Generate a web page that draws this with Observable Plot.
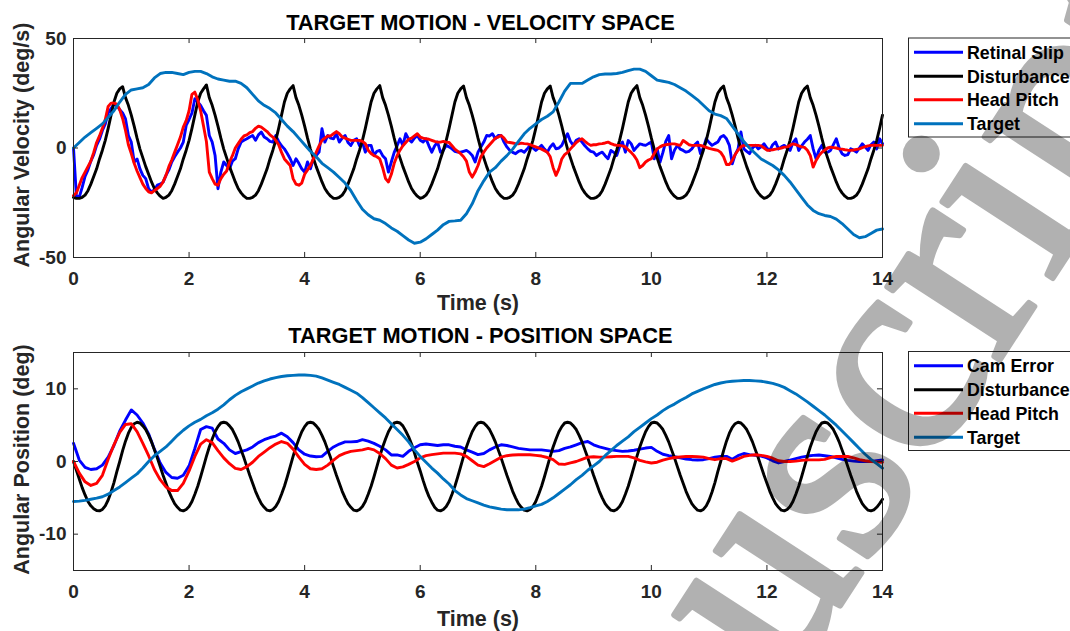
<!DOCTYPE html>
<html><head><meta charset="utf-8">
<script src="https://cdn.jsdelivr.net/npm/d3@7"></script>
<script src="https://cdn.jsdelivr.net/npm/@observablehq/plot@0.6"></script>
<style>
body{margin:0;background:#fff;}
#wrap{position:relative;width:1070px;height:631px;overflow:hidden;background:#fff;}
</style></head><body><div id="wrap"></div>
<script>
// ---------- DATA ----------
const xTicks = [0, 2, 4, 6, 8, 10, 12, 14];
const velTicks = [-50, 0, 50];
const posTicks = [-10, 0, 10];
const velLegend = ["Retinal Slip", "Disturbance", "Head Pitch", "Target"];
const posLegend = ["Cam Error", "Disturbance", "Head Pitch", "Target"];
const titles = ["TARGET MOTION - VELOCITY SPACE", "TARGET MOTION - POSITION SPACE"];
const yLabels = ["Angular Velocity (deg/s)", "Angular Position (deg)"];
const xLabel = "Time (s)";
const watermarkText = "Manuscript";
const fineStep = 0.05;   // s between samples
const coarseStep = 0.1;  // s between samples

const velRetinalSlip = [
0,-22,-22.4,-18,-13,-10,-6,-3,1.2,4,8,11,16,18,20,19.4,17.5,16,13.3,5.7,
2.7,-6.4,-5,-9.5,-12.5,-14,-18.6,-20.1,-19,-17,-16.5,-15.6,-12.5,-10,-6.4,-4,-1.9,0,2.7,10.3,
13,16,22.5,21,19.4,17,14.9,5.7,2.7,-3.4,-18.6,-11,-6.4,-8,-9.5,-6,-4.9,-0.4,2.7,3.5,
4.2,5,5.7,3.5,6,7.3,5,4.2,3,2.7,5.7,3,1,-0.4,-2.5,-4.9,-8,-4.9,-7,-9.5,
-11,-6.4,-9.5,-5,-3.4,-1.9,8.8,2.7,5.7,4.5,4.2,6.5,2.7,4.5,5.7,2.5,1.2,3.5,4.2,1,
2.7,-1.9,1.2,1.2,-3.4,-1.5,-1.1,-3.5,-4.9,-11,-6.4,-2,1,4.2,1.2,6.5,4,2.7,4.5,5.7,
3.5,2.7,4.2,1,-1.9,1,2.7,-1.9,-1,1.2,0.5,-0.4,-1.5,-1.9,-1.9,-1.5,-1.1,-2,-3.4,-6.4,
-1.9,0.5,2.7,5.7,5.5,6.5,4.2,5.7,5.7,2.7,0.5,-1.1,-2,-2.6,-1.5,-1.1,-1.9,-0.5,1.2,0,
-1.1,0,1.2,-0.5,-1.9,0.5,1.9,-0.4,0,1.2,4,6.5,3,1.2,3.5,4.2,2.7,1,-0.4,-1.5,
-1.9,-3.4,-2.5,-1.9,-3.5,-4.9,-1.1,-2,-3.4,0.5,2.7,-1.9,3.4,2,-1.1,0.5,1.9,1.5,1.2,2,
2.7,-4.9,-0.4,-6.4,-2,3,5.7,-4.9,-1,1.2,-0.5,-1.1,-1.9,-1.5,-0.4,1.5,2.7,-2.6,0,4.2,
2.5,1.2,2,2.7,5,5.7,4.2,1.2,-7.2,-3,-0.4,7.3,-0.4,-1.5,-2.6,0,1.2,-0.4,0.5,1.9,
0,-1.1,1.5,2.7,-0.4,0.5,1.2,0,-1.1,2.5,4.2,-1.1,1,2.7,4,5.7,-0.4,-4.9,-1,1.2,
-1.9,-1.9,-1.1,1.5,4.2,0,-2.6,-3.4,-3,-0.4,-1,-1.9,0,1.9,0.5,-1.1,1.5,2.7,-0.4,4.2,
1.9];

const velDisturbance = [
-22.5,-23,
-23,-22.5,-21.5,-19.5,-16.5,-13,-9.5,-5,-1,3.5,9,15,21,25,27,
28,
23,19.5,15,10,4.5,-0.5,-4.5,-8.5,-12,-15.5,-18.5,-20.5,-22,-23,
-22.5,-21.5,-19.5,-16.5,-13,-9.5,-5,-1,3.5,9,15,21,25,27,
28.8,
23,19.5,15,10,4.5,-0.5,-4.5,-8.5,-12,-15.5,-18.5,-20.5,-22,-23,
-23,-22.5,-21.5,-19.5,-16.5,-13,-9.5,-5,-1,3.5,9,15,21,25,27,
28.5,
23,19.5,15,10,4.5,-0.5,-4.5,-8.5,-12,-15.5,-18.5,-20.5,-22,-23,
-23,-22.5,-21.5,-19.5,-16.5,-13,-9.5,-5,-1,3.5,9,15,21,25,27,
28.5,
23,19.5,15,10,4.5,-0.5,-4.5,-8.5,-12,-15.5,-18.5,-20.5,-22,-23,
-22.5,-21.5,-19.5,-16.5,-13,-9.5,-5,-1,3.5,9,15,21,25,27,
28.3,
23,19.5,15,10,4.5,-0.5,-4.5,-8.5,-12,-15.5,-18.5,-20.5,-22,-23,
-23,-22.5,-21.5,-19.5,-16.5,-13,-9.5,-5,-1,3.5,9,15,21,25,27,
28.3,
23,19.5,15,10,4.5,-0.5,-4.5,-8.5,-12,-15.5,-18.5,-20.5,-22,-23,
-23,-22.5,-21.5,-19.5,-16.5,-13,-9.5,-5,-1,3.5,9,15,21,25,27,
28.5,
23,19.5,15,10,4.5,-0.5,-4.5,-8.5,-12,-15.5,-18.5,-20.5,-22,-23,
-23,-22.5,-21.5,-19.5,-16.5,-13,-9.5,-5,-1,3.5,9,15,21,25,27,
28.3,
23,19.5,15,10,4.5,-0.5,-4.5,-8.5,-12,-15.5,-18.5,-20.5,-22,-23,
-22.5,-21.5,-19.5,-16.5,-13,-9.5,-5,-1,3.5,9,15,21,25,27,
28.3,
23,19.5,15,10,4.5,-0.5,-4.5,-8.5,-12,-15.5,-18.5,-20.5,-22,-23,
-23,-22.5,-21.5,-19.5,-16.5,-13,-9.5,-5,-1,3.5,9,15];

const velHeadPitch = [
-21.7,-20.5,-17,-13.5,-11,-8.5,-6,-2,2.5,5.5,9,13,19,20.5,20.5,20,17.5,13.5,8,1.5,
-2.5,-7,-10.5,-13.5,-16.5,-18.5,-20,-20.5,-19.5,-18.5,-17.5,-15.5,-12.5,-8.5,-5.5,-2,1.5,5,9.5,12.5,
17,24.5,25.5,22,17,10,3,-11,-14,-16.5,-17,-14,-12,-10.5,-6.5,-3.5,0,2,4,5.5,
6,7,7.5,9,10,9.5,8.5,7.5,6,5,3.5,1.5,-2,-5,-6.5,-8,-14,-16.5,-17,-16,
-12,-10,-8,-5,-2,1,3.5,4.5,5.5,5.5,6.5,7.5,6.5,5,4.5,4,3.5,3.5,3.5,3.5,
3,2,-1,-2.5,-3.5,-4,-5,-9,-14,-15.5,-12,-7,-3.5,-1,1,2.5,4,4.5,5.5,6.5,
5,4.5,4.2,4,3.5,3,2.7,2.7,3,2.7,2.5,1,-0.5,-1.5,-2.6,-4,-6,-11,-13.3,-11,
-8,-4,-1.9,0,1.5,3,4.5,5,5.7,4.5,2.7,2.5,2.3,2,1.9,2.2,2,1.9,1.5,1,
0.5,0,-0.5,-1.2,-1.9,-4,-9,-12.5,-9.5,-5,-3,-2,-0.4,1,2.5,3.5,4.2,3,2,1.2,
1.5,1.5,1.9,2,2.3,2.7,2,1.5,1.2,1.2,1,0.5,-0.8,-2,-3.5,-5.5,-9,-8,-6.4,-5.5,
-4.9,-2.5,-0.4,0.5,1.2,1.5,1.7,1.9,1.9,1.5,1.2,3.4,2.5,1.5,1.2,1.2,1.2,1.2,0.8,0.3,
-0.2,-0.5,-0.8,-1.1,-2,-4,-7.5,-7.5,-5.7,-3,-1,0.5,1.2,1.2,1.2,1.2,1.2,1.2,1,0,
-1,-1,-0.8,-0.5,-0.3,0,0.4,0.5,1.2,1.9,1.5,1,0.5,0.3,-1,-3.4,-8.7,-5.7,-3.5,-2,
-1,0,0.4,0.2,0,-0.4,-0.5,-0.8,-1,-1.1,-0.9,-0.6,-0.4,0.2,0.6,1,1.2,1.3,1.2,1.2,
1.2];

const velTarget = [
0,2.5,5,7,9,11,14,17,21,24.5,
26.5,27,27.5,29,32,34,34.5,34.5,34,33.5,
34.5,35,35,34,32.5,31.5,31,30.5,30.5,29.5,
27.5,24.5,21.5,19.5,18,16,13,10,7.5,4.5,
1.5,-1.5,-4,-7,-9,-11,-13.5,-16,-19.5,-24,
-28,-30.5,-32.3,-33,-34.5,-36.5,-38,-40,-42,-43.5,
-43,-41.5,-39.5,-37.5,-35,-33.5,-33.3,-33,-30,-25.5,
-19.5,-15,-11,-9,-6,-3.5,-0.5,3,6.5,9,
11,13,14.5,16.5,21,26,29.5,29.5,29.5,31,
32.5,33.5,33.8,33.8,34,34.5,35.3,36,36,35,
33,31,30.5,30,29,27.5,26,24,22,19.5,
17,15.5,14.8,13.5,10,6.5,3,0,-2.5,-5,
-6.5,-8,-10,-12.5,-15.5,-19,-22.5,-26,-28.5,-30,
-30.8,-31.3,-32.5,-34.5,-37,-39.5,-41,-40.5,-39,-37.5,
-37];

const posCamError = [
2.5,0.2,-0.8,-1.1,-1.0,-0.5,0.6,2.2,4.2,5.7,
7.1,6.4,5.3,3.8,1.7,-0.2,-1.5,-2.2,-2.3,-1.9,
-0.6,1.8,4.4,4.8,4.6,3.1,2.5,1.6,1.1,1.35,
1.6,2.0,2.6,3.0,3.3,3.5,3.9,3.4,2.6,1.6,
1.0,0.75,0.65,0.7,1.4,2.0,2.4,2.7,2.7,2.75,
3.0,2.8,2.5,2.1,1.6,0.9,0.9,0.7,1.4,1.9,
2.3,2.4,2.3,2.2,2.3,2.3,2.1,2.0,1.6,1.3,
0.95,1.1,1.6,2.0,2.3,2.2,2.0,1.8,1.7,1.6,
1.6,1.6,1.5,1.4,1.5,1.8,2.0,2.3,2.6,2.75,
2.3,2.0,1.8,1.6,1.5,1.4,1.45,1.55,1.7,1.85,
1.95,1.4,1.0,0.8,0.65,0.5,0.35,0.25,0.2,0.25,
0.4,0.6,0.7,0.7,0.3,0.8,1.1,0.95,0.85,0.75,
0.5,0.1,-0.2,0.0,0.2,0.4,0.6,0.75,0.85,0.9,
0.8,0.7,0.5,0.3,0.15,0.05,0.0,0.0,0.0,0.1,
0.2];

const posDisturbance = [
0,-1.2,-2.4,-3.6,-4.6,-5.5,-6.1,-6.5,-6.75,-6.8,
-6.6,-6.1,-5.3,-4.2,-2.9,-1.4,0,1.5,2.8,3.9,4.7,5.2,5.4,
5.3,4.9,4.4,3.6,2.7,1.6,0.5,-0.7,-1.9,-3,-4.1,-5,-5.8,-6.3,-6.7,-6.8,
-6.6,-6.2,-5.5,-4.5,-3.4,-2.1,-0.7,0.7,2,3.1,4.1,4.8,5.3,5.4,
5.3,4.9,4.4,3.6,2.7,1.6,0.5,-0.7,-1.9,-3,-4.1,-5,-5.8,-6.3,-6.7,-6.8,
-6.6,-6.2,-5.5,-4.5,-3.4,-2.1,-0.7,0.7,2,3.1,4.1,4.8,5.3,5.4,
5.3,4.9,4.4,3.6,2.7,1.6,0.5,-0.7,-1.9,-3,-4.1,-5,-5.8,-6.3,-6.7,-6.8,
-6.6,-6.2,-5.5,-4.5,-3.4,-2.1,-0.7,0.7,2,3.1,4.1,4.8,5.3,5.4,
5.3,4.9,4.2,3.4,2.4,1.2,-0.1,-1.3,-2.6,-3.8,-4.8,-5.6,-6.3,-6.7,-6.8,
-6.6,-6.2,-5.5,-4.5,-3.4,-2.1,-0.7,0.7,2,3.1,4.1,4.8,5.3,5.4,
5.3,4.9,4.4,3.6,2.7,1.6,0.5,-0.7,-1.9,-3,-4.1,-5,-5.8,-6.3,-6.7,-6.8,
-6.6,-6.2,-5.5,-4.5,-3.4,-2.1,-0.7,0.7,2,3.1,4.1,4.8,5.3,5.4,
5.3,4.9,4.4,3.6,2.7,1.6,0.5,-0.7,-1.9,-3,-4.1,-5,-5.8,-6.3,-6.7,-6.8,
-6.6,-6.2,-5.5,-4.5,-3.4,-2.1,-0.7,0.7,2,3.1,4.1,4.8,5.3,5.4,
5.3,4.9,4.4,3.6,2.7,1.6,0.5,-0.7,-1.9,-3,-4.1,-5,-5.8,-6.3,-6.7,-6.8,
-6.6,-6.1,-5.3,-4.2,-2.9,-1.4,0,1.5,2.8,3.9,4.7,5.2,5.4,
5.3,4.9,4.4,3.6,2.7,1.6,0.5,-0.7,-1.9,-3,-4.1,-5,-5.8,-6.3,-6.7,-6.8,
-6.6,-6.2,-5.5,-4.5,-3.4,-2.1,-0.7,0.7,2,3.1,4.1,4.8,5.3,5.4,
5.3,4.9,4.4,3.6,2.7,1.6,0.5,-0.7,-1.9,-3,-4.1,-5,-5.8,-6.3,-6.7,-6.8,
-6.65,-6.3,-5.8,-5.2];

const posHeadPitch = [
0,-1.6,-2.8,-3.3,-3.0,-1.9,0.3,2.3,4.0,5.1,
5.2,4.1,2.5,0.8,-1.1,-2.5,-3.5,-4.0,-4.0,-3.0,
-1.3,0.7,2.4,3.0,2.6,1.5,0.5,-0.3,-0.95,-1.1,
-0.7,-0.1,0.7,1.3,1.9,2.4,2.75,2.5,1.7,0.6,
-0.4,-1.0,-1.1,-1.0,-0.5,0.2,0.8,1.15,1.4,1.5,
1.6,1.8,1.6,1.1,0.4,-0.5,-0.9,-0.75,-0.4,0.0,
0.5,0.8,0.95,1.05,1.15,1.15,1.15,1.05,0.7,0.1,
-0.5,-0.7,-0.3,0.15,0.6,0.8,0.9,0.92,0.92,0.92,
0.85,0.75,0.55,0.25,-0.35,-0.4,-0.2,0.0,0.3,0.6,
0.65,0.6,0.6,0.65,0.7,0.7,0.7,0.5,0.15,-0.05,
-0.2,-0.1,0.2,0.4,0.55,0.62,0.68,0.7,0.65,0.6,
0.4,0.25,0.4,0.4,0.05,0.35,0.7,0.85,0.92,0.85,
0.7,0.45,0.1,0.0,0.0,0.05,0.15,0.23,0.23,0.23,
0.3,0.55,0.69,0.7,0.69,0.5,0.25,0.1,0.0,-0.05,
-0.1];

const posTarget = [
-5.5,-5.45,-5.35,-5.2,-5.05,-4.85,-4.5,-4.0,-3.5,-2.9,
-2.3,-1.7,-0.9,0,0.8,1.4,2.0,2.8,3.6,4.3,
4.9,5.4,5.8,6.3,6.7,7.2,7.8,8.5,9.1,9.6,
10.0,10.4,10.8,11.1,11.35,11.55,11.7,11.8,11.85,11.9,
11.9,11.85,11.75,11.5,11.2,10.9,10.6,10.2,9.8,9.4,
8.8,8.1,7.4,6.7,6.0,5.2,4.4,3.6,2.7,1.6,
0.7,-0.1,-0.9,-1.6,-2.4,-3.1,-4.0,-4.6,-5.1,-5.4,
-5.7,-6.0,-6.25,-6.4,-6.55,-6.64,-6.65,-6.65,-6.55,-6.35,
-6.1,-5.9,-5.5,-5.0,-4.4,-3.8,-3.2,-2.5,-1.9,-1.2,
-0.6,0.0,0.8,1.5,2.2,2.8,3.4,4.1,4.7,5.3,
5.9,6.4,7.0,7.5,7.9,8.4,8.8,9.3,9.65,10.0,
10.3,10.6,10.8,10.95,11.05,11.1,11.15,11.15,11.1,11.05,
10.9,10.75,10.5,10.2,9.75,9.3,8.75,8.2,7.6,7.0,
6.4,5.7,5.0,4.2,3.4,2.6,1.8,1.0,0.3,-0.3,
-0.9];

const seriesColors = ["#0000FF", "#000000", "#FF0000", "#0072BD"];

// ---------- DRAWING ----------
const wrap = document.getElementById("wrap");
const FONT = "'Liberation Sans', Arial, Helvetica, sans-serif";
const AXIS = "#262626";

function panel(cfg) {
  const [y0, y1] = cfg.yDomain;
  const marks = [
    Plot.axisX(xTicks, {tickSize: 0, tickPadding: 14, label: null, tickFormat: d => String(d)}),
    Plot.axisY(cfg.yTicks, {tickSize: 0, tickPadding: 7, label: null, tickFormat: d => String(d)})
  ];
  cfg.series.forEach((s, k) => {
    marks.push(Plot.line(s.values, {x: (d, i) => i * s.step, y: d => d, stroke: seriesColors[k], strokeWidth: 2.9}));
  });
  marks.push(
    Plot.ruleX(xTicks, {x: d => d, y1: y0, y2: y0 + cfg.tickY, stroke: AXIS}),
    Plot.ruleX(xTicks, {x: d => d, y1: y1, y2: y1 - cfg.tickY, stroke: AXIS}),
    Plot.ruleY(cfg.yTicks, {y: d => d, x1: 0, x2: cfg.tickX, stroke: AXIS}),
    Plot.ruleY(cfg.yTicks, {y: d => d, x1: 14, x2: 14 - cfg.tickX, stroke: AXIS}),
    Plot.frame({stroke: AXIS})
  );
  const svg = Plot.plot({
    width: 900, height: 300,
    marginLeft: 73, marginRight: 18, marginTop: 38, marginBottom: cfg.marginBottom,
    x: {domain: [0, 14]},
    y: {domain: cfg.yDomain},
    style: {fontFamily: FONT, fontSize: "19px", fontWeight: "bold", color: AXIS, background: "transparent", overflow: "visible"},
    marks
  });
  svg.style.position = "absolute";
  svg.style.left = "0px";
  svg.style.top = cfg.top + "px";
  wrap.appendChild(svg);
}

panel({
  top: 0, marginBottom: 43, yDomain: [-50, 50], yTicks: velTicks, tickY: 2.3, tickX: 0.087,
  series: [
    {values: velRetinalSlip, step: fineStep},
    {values: velDisturbance, step: fineStep},
    {values: velHeadPitch, step: fineStep},
    {values: velTarget, step: coarseStep}
  ]
});
panel({
  top: 314, marginBottom: 44, yDomain: [-15, 15], yTicks: posTicks, tickY: 0.69, tickX: 0.087,
  series: [
    {values: posCamError, step: coarseStep},
    {values: posDisturbance, step: fineStep},
    {values: posHeadPitch, step: coarseStep},
    {values: posTarget, step: coarseStep}
  ]
});

// overlay: titles, axis labels, legends, watermark
const ov = d3.create("svg").attr("width", 1070).attr("height", 631)
  .style("position", "absolute").style("left", "0px").style("top", "0px")
  .style("font-family", FONT).style("font-weight", "bold");

const titleY = [30, 343];
titles.forEach((t, i) => ov.append("text").attr("x", 480.5).attr("y", titleY[i])
  .attr("text-anchor", "middle").attr("font-size", 21.8).attr("fill", "#000").text(t));

const yLabelCenter = [145, 459.5];
yLabels.forEach((t, i) => ov.append("text")
  .attr("transform", `translate(29,${yLabelCenter[i]}) rotate(-90)`)
  .attr("text-anchor", "middle").attr("font-size", 21.5).attr("fill", AXIS).text(t));

[310, 626].forEach(y => ov.append("text").attr("x", 478).attr("y", y)
  .attr("text-anchor", "middle").attr("font-size", 21.5).attr("fill", AXIS).text(xLabel));

function legend(top, labels) {
  ov.append("rect").attr("x", 908.5).attr("y", top + 0.5).attr("width", 200).attr("height", 99)
    .attr("fill", "#fff").attr("stroke", AXIS).attr("stroke-width", 1);
  const rows = [14.8, 38.7, 62.3, 86.2];
  labels.forEach((lab, i) => {
    const y = top + rows[i];
    ov.append("line").attr("x1", 914).attr("x2", 963).attr("y1", y).attr("y2", y)
      .attr("stroke", seriesColors[i]).attr("stroke-width", 3);
    ov.append("text").attr("x", 967).attr("y", y + 6.3).attr("font-size", 17.8)
      .attr("fill", "#000").text(lab);
  });
}
legend(37.5, velLegend);
legend(351, posLegend);

// watermark (semi-transparent grey overlay, runs off the page edges as in the original)
ov.append("g").attr("opacity", 0.3)
  .append("text")
  .attr("transform", "translate(493,1140) rotate(-57)")
  .attr("font-family", "'Liberation Serif', 'Times New Roman', serif")
  .attr("font-weight", "normal")
  .attr("font-size", 292)
  .attr("fill", "#000").attr("stroke", "#000").attr("stroke-width", 6)
  .attr("stroke-linejoin", "round")
  .text(watermarkText);

wrap.appendChild(ov.node());
</script></body></html>
